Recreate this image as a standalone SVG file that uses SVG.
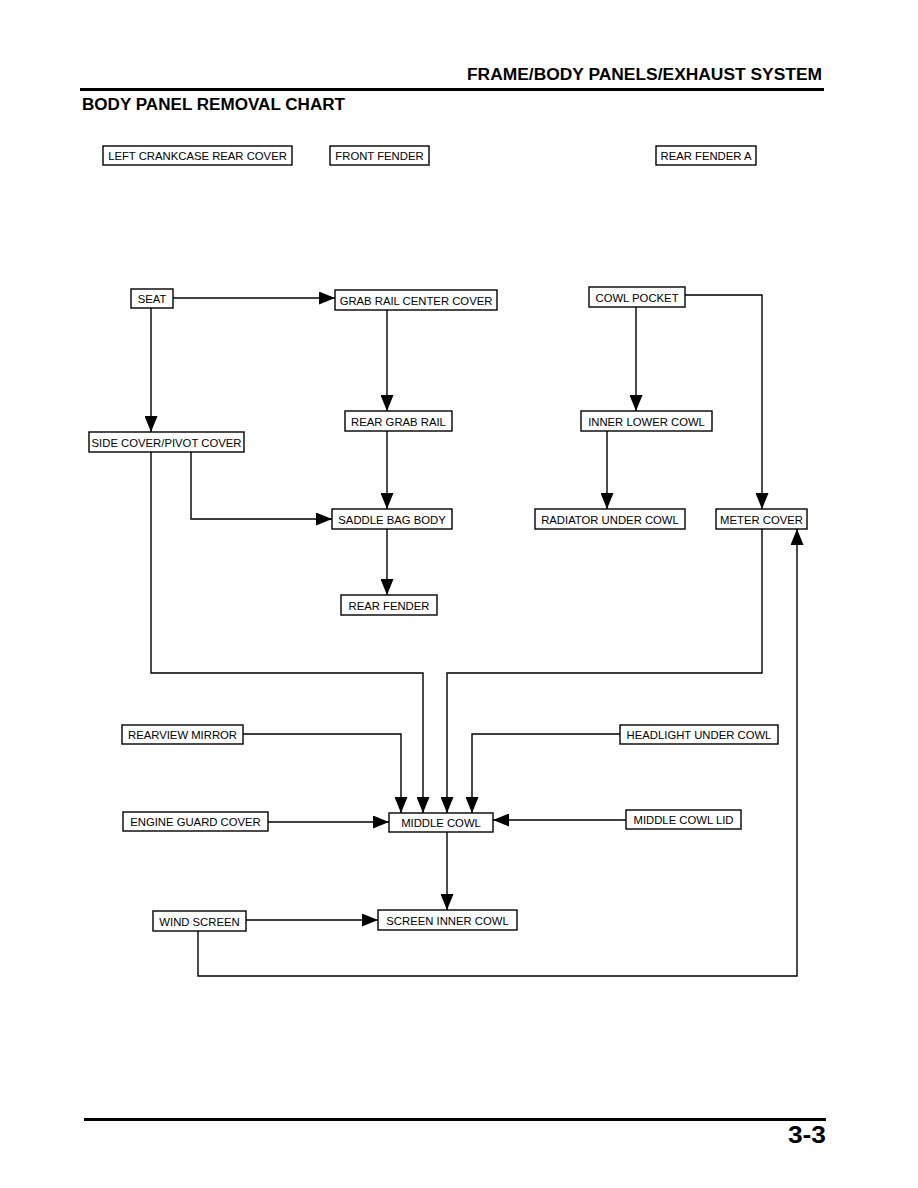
<svg xmlns="http://www.w3.org/2000/svg" width="918" height="1188" viewBox="0 0 918 1188">
<defs>
<style>
.box rect{fill:#fff;stroke:#000;stroke-width:1.4}
.box text{font-family:"Liberation Sans",Arial,sans-serif;font-size:11.3px;text-anchor:middle;fill:#000}
.ln{fill:none;stroke:#000;stroke-width:1.4}
.hd{font-family:"Liberation Sans",Arial,sans-serif;font-weight:bold;fill:#000}
</style>
<marker id="ah" markerUnits="userSpaceOnUse" markerWidth="17" markerHeight="13" refX="16" refY="6.5" orient="auto">
<path d="M0,0 L16,6.5 L0,13 Z" fill="#000"/>
</marker>
</defs>
<rect width="918" height="1188" fill="#fff"/>
<text class="hd" x="822" y="80" font-size="16" text-anchor="end" textLength="355" lengthAdjust="spacingAndGlyphs">FRAME/BODY PANELS/EXHAUST SYSTEM</text>
<rect x="80" y="88" width="744" height="3" fill="#000"/>
<text class="hd" x="82" y="110" font-size="16" textLength="263" lengthAdjust="spacingAndGlyphs">BODY PANEL REMOVAL CHART</text>
<rect x="84" y="1118" width="742" height="3" fill="#000"/>
<text class="hd" x="826" y="1143" font-size="23" text-anchor="end" textLength="38" lengthAdjust="spacingAndGlyphs">3-3</text>

<g id="connectors">
<path class="ln" d="M173,298 H335" marker-end="url(#ah)"/>
<path class="ln" d="M151,308 V432" marker-end="url(#ah)"/>
<path class="ln" d="M387,310 V411" marker-end="url(#ah)"/>
<path class="ln" d="M387,431 V509" marker-end="url(#ah)"/>
<path class="ln" d="M191,452 V519 H332" marker-end="url(#ah)"/>
<path class="ln" d="M387,529 V595" marker-end="url(#ah)"/>
<path class="ln" d="M685,295 H762 V509" marker-end="url(#ah)"/>
<path class="ln" d="M636,307 V411" marker-end="url(#ah)"/>
<path class="ln" d="M607,431 V509" marker-end="url(#ah)"/>
<path class="ln" d="M762,529 V673 H447 V813" marker-end="url(#ah)"/>
<path class="ln" d="M151,452 V673 H423 V813" marker-end="url(#ah)"/>
<path class="ln" d="M243,734 H401 V813" marker-end="url(#ah)"/>
<path class="ln" d="M620,734 H472 V813" marker-end="url(#ah)"/>
<path class="ln" d="M268,822 H389" marker-end="url(#ah)"/>
<path class="ln" d="M626,820 H493" marker-end="url(#ah)"/>
<path class="ln" d="M447,832 V910" marker-end="url(#ah)"/>
<path class="ln" d="M246,920 H378" marker-end="url(#ah)"/>
<path class="ln" d="M198,931 V976 H797 V529" marker-end="url(#ah)"/>
</g>

<g id="n-left-crankcase" class="box"><rect x="103" y="146" width="189" height="19"/><text x="197.5" y="160">LEFT CRANKCASE REAR COVER</text></g>
<g id="n-front-fender" class="box"><rect x="330" y="146" width="99" height="19"/><text x="379.5" y="160">FRONT FENDER</text></g>
<g id="n-rear-fender-a" class="box"><rect x="656" y="146" width="100" height="19"/><text x="706" y="160">REAR FENDER A</text></g>
<g id="n-seat" class="box"><rect x="131" y="289" width="42" height="19"/><text x="152" y="303">SEAT</text></g>
<g id="n-grab-rail-center" class="box"><rect x="335" y="290" width="162" height="20"/><text x="416" y="304.5">GRAB RAIL CENTER COVER</text></g>
<g id="n-cowl-pocket" class="box"><rect x="589" y="287" width="96" height="20"/><text x="637" y="301.5">COWL POCKET</text></g>
<g id="n-rear-grab-rail" class="box"><rect x="345" y="411" width="107" height="20"/><text x="398.5" y="425.5">REAR GRAB RAIL</text></g>
<g id="n-inner-lower-cowl" class="box"><rect x="581" y="411" width="131" height="20"/><text x="646.5" y="425.5">INNER LOWER COWL</text></g>
<g id="n-side-cover" class="box"><rect x="89" y="432" width="155" height="20"/><text x="166.5" y="446.5">SIDE COVER/PIVOT COVER</text></g>
<g id="n-saddle-bag" class="box"><rect x="332" y="509" width="120" height="20"/><text x="392" y="523.5">SADDLE BAG BODY</text></g>
<g id="n-radiator-under" class="box"><rect x="535" y="509" width="150" height="20"/><text x="610" y="523.5">RADIATOR UNDER COWL</text></g>
<g id="n-meter-cover" class="box"><rect x="716" y="509" width="91" height="20"/><text x="761.5" y="523.5">METER COVER</text></g>
<g id="n-rear-fender" class="box"><rect x="341" y="595" width="96" height="20"/><text x="389" y="609.5">REAR FENDER</text></g>
<g id="n-rearview-mirror" class="box"><rect x="122" y="725" width="121" height="19"/><text x="182.5" y="739">REARVIEW MIRROR</text></g>
<g id="n-headlight-under" class="box"><rect x="620" y="725" width="158" height="19"/><text x="699" y="739">HEADLIGHT UNDER COWL</text></g>
<g id="n-engine-guard" class="box"><rect x="123" y="812" width="145" height="19"/><text x="195.5" y="826">ENGINE GUARD COVER</text></g>
<g id="n-middle-cowl" class="box"><rect x="389" y="813" width="104" height="19"/><text x="441" y="827">MIDDLE COWL</text></g>
<g id="n-middle-cowl-lid" class="box"><rect x="626" y="810" width="115" height="19"/><text x="683.5" y="824">MIDDLE COWL LID</text></g>
<g id="n-wind-screen" class="box"><rect x="153" y="911" width="93" height="20"/><text x="199.5" y="925.5">WIND SCREEN</text></g>
<g id="n-screen-inner" class="box"><rect x="378" y="910" width="139" height="20"/><text x="447.5" y="924.5">SCREEN INNER COWL</text></g>
</svg>
